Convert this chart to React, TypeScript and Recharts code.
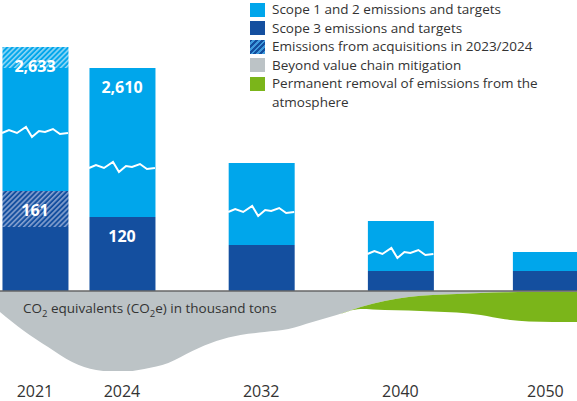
import { AreaChart, Area, ComposedChart, Bar, Scatter, XAxis, YAxis, ReferenceLine, Legend } from 'recharts'

const YEARS = ['2021', '2024', '2032', '2040', '2050']
// drawn column heights (scope 1+2 uses a broken axis, so the picture is schematic)
const SCOPE3 = [64, 74, 46, 20, 20]
const SCOPE3_ACQ = [36, 0, 0, 0, 0]
const SCOPE12 = [123, 149, 82, 50, 19]
const SCOPE12_ACQ = [21, 0, 0, 0, 0]
const BREAK_AT = [158, 123, 79, 37, null]
const TOP_LABELS = ['2,633', '2,610', '', '', '']
const SCOPE3_LABELS = ['161', '120', '', '', '']

// below the zero line, sampled evenly from left to right edge
const MITIGATION = [21, 40, 56, 71, 79, 81, 78, 72, 60, 50, 44, 41, 38, 31, 24, 16, 10, 6, 4, 3, 2, 1.3, 1, 1, 1]
const REMOVAL = [0, 0, 0, 0, 0, 0, 0, 0, 0, 0, 0, 0, 0, 0, 0, 2, 9, 13.5, 16.5, 18.5, 22, 27, 29.5, 30, 30]

// the drawing's compressed time axis: where each year sits
const TIMELINE = [0, 15, 39, 63, 88]
const X_DOMAIN: [number, number] = [-6.03, 93.45]
const Y_DOMAIN: [number, number] = [-80, 291]

const W = 577
const H = 401
const FONT = '"Open Sans", "Noto Sans", sans-serif'
const LIGHT = '#00a6eb'
const DARK = '#144f9f'
const GREY = '#bcc3c6'
const GREEN = '#7bb51a'
const TEXT = '#333333'

const barData = YEARS.map((year, i) => ({
  year,
  slot: TIMELINE[i],
  scope3: SCOPE3[i],
  scope3Acq: SCOPE3_ACQ[i],
  scope12: SCOPE12[i],
  scope12Acq: SCOPE12_ACQ[i],
  scope3Top: SCOPE3_LABELS[i] ? SCOPE3[i] + SCOPE3_ACQ[i] : null,
  totalTop: TOP_LABELS[i] ? SCOPE3[i] + SCOPE3_ACQ[i] + SCOPE12[i] + SCOPE12_ACQ[i] : null,
  breakAt: BREAK_AT[i],
  topLabel: TOP_LABELS[i],
  scope3Label: SCOPE3_LABELS[i],
}))

const areaData = MITIGATION.map((m, i) => ({ mitigation: -m, removal: -REMOVAL[i] }))

const LEGEND_ITEMS = [
  { label: 'Scope 1 and 2 emissions and targets', swatch: LIGHT },
  { label: 'Scope 3 emissions and targets', swatch: DARK },
  { label: 'Emissions from acquisitions in 2023/2024', swatch: `repeating-linear-gradient(135deg, ${DARK} 0 2px, #3f9bdc 2px 4px)` },
  { label: 'Beyond value chain mitigation', swatch: GREY },
  { label: 'Permanent removal of emissions from the atmosphere', swatch: GREEN },
]

const ZIG = [[0, 0], [7, -3], [15, 0], [24, -6], [30, 4], [37, -2], [43, -1], [51, -4], [58, 1], [66, 0]]

function LegendBox() {
  return (
    <div style={{ fontFamily: FONT, fontSize: 13.5, lineHeight: '18.5px', color: TEXT }}>
      {LEGEND_ITEMS.map((item) => (
        <div key={item.label} style={{ display: 'flex', alignItems: 'flex-start' }}>
          <span style={{ flex: 'none', width: 15, height: 14, marginTop: 2.5, marginRight: 7, background: item.swatch }} />
          <span style={{ width: 268 }}>{item.label}</span>
        </div>
      ))}
    </div>
  )
}

const valueLabel = (key: 'topLabel' | 'scope3Label') => (props: any) => {
  const { cx, cy, payload } = props
  if (!Number.isFinite(cx) || !Number.isFinite(cy) || !payload[key]) return null
  return (
    <text x={cx} y={cy + 25} textAnchor="middle" fill="#fff" fontSize={16} fontWeight={700} fontFamily={FONT}>
      {payload[key]}
    </text>
  )
}

const breakMark = (props: any) => {
  const { cx, cy } = props
  if (!Number.isFinite(cx) || !Number.isFinite(cy)) return null
  const pts = ZIG.map(([dx, dy]) => `${cx - 33 + dx},${cy + dy}`).join(' ')
  return <polyline points={pts} fill="none" stroke="#fff" strokeWidth={2} strokeLinejoin="miter" />
}

const unitNote = (props: any) => {
  const vb = props.viewBox || props
  return (
    <text x={vb.x + 23} y={vb.y + 22} fill={TEXT} fontSize={13.5} fontFamily={FONT}>
      CO<tspan dy={4} fontSize={9.5}>2</tspan>
      <tspan dy={-4}> equivalents (CO</tspan>
      <tspan dy={4} fontSize={9.5}>2</tspan>
      <tspan dy={-4}>e) in thousand tons</tspan>
    </text>
  )
}

export default function App() {
  return (
    <div style={{ position: 'absolute', left: 0, top: 0, width: W, height: H, background: '#fff' }}>
      <div style={{ position: 'absolute', left: 0, top: 0 }}>
        <AreaChart width={W} height={H} data={areaData} margin={{ top: 0, right: 0, bottom: 30, left: 0 }}>
          <XAxis hide />
          <YAxis hide domain={Y_DOMAIN} allowDataOverflow />
          <Area type="monotone" dataKey="mitigation" stackId="m" stroke="none" fill={GREY} fillOpacity={1} isAnimationActive={false} />
          <Area type="monotone" dataKey="removal" stackId="m" stroke="none" fill={GREEN} fillOpacity={1} isAnimationActive={false} />
        </AreaChart>
      </div>
      <div style={{ position: 'absolute', left: 0, top: 0 }}>
        <ComposedChart width={W} height={H} data={barData} margin={{ top: 0, right: 0, bottom: 0, left: 0 }}>
          <defs>
            <pattern id="hatchLight" width="3.6" height="3.6" patternUnits="userSpaceOnUse" patternTransform="rotate(45)">
              <rect width="3.6" height="3.6" fill={LIGHT} />
              <rect width="1.6" height="3.6" fill="#8fd6f5" />
            </pattern>
            <pattern id="hatchDark" width="3.6" height="3.6" patternUnits="userSpaceOnUse" patternTransform="rotate(45)">
              <rect width="3.6" height="3.6" fill={DARK} />
              <rect width="1.6" height="3.6" fill="#86a1cf" />
            </pattern>
          </defs>
          <XAxis
            type="number"
            dataKey="slot"
            domain={X_DOMAIN}
            allowDataOverflow
            ticks={TIMELINE}
            interval={0}
            tickFormatter={(v: number) => YEARS[TIMELINE.indexOf(v)]}
            axisLine={false}
            tickLine={false}
            tickSize={0}
            tickMargin={15}
            height={30}
            tick={{ fill: TEXT, fontSize: 16, fontFamily: FONT }}
          />
          <YAxis hide domain={Y_DOMAIN} allowDataOverflow />
          <Legend
            layout="vertical"
            align="center"
            verticalAlign="middle"
            content={() => <LegendBox />}
            wrapperStyle={{ left: 250, top: 0, width: 327 }}
          />
          <Bar dataKey="scope3" stackId="e" fill={DARK} barSize={66} isAnimationActive={false} />
          <Bar dataKey="scope3Acq" stackId="e" fill="url(#hatchDark)" barSize={66} isAnimationActive={false} />
          <Bar dataKey="scope12" stackId="e" fill={LIGHT} barSize={66} isAnimationActive={false} />
          <Bar dataKey="scope12Acq" stackId="e" fill="url(#hatchLight)" barSize={66} isAnimationActive={false} />
          <ReferenceLine y={0} stroke="#666" strokeWidth={1.5} label={unitNote} />
          <Scatter dataKey="breakAt" shape={breakMark} isAnimationActive={false} legendType="none" />
          <Scatter dataKey="totalTop" shape={valueLabel('topLabel')} isAnimationActive={false} legendType="none" />
          <Scatter dataKey="scope3Top" shape={valueLabel('scope3Label')} isAnimationActive={false} legendType="none" />
        </ComposedChart>
      </div>
    </div>
  )
}
